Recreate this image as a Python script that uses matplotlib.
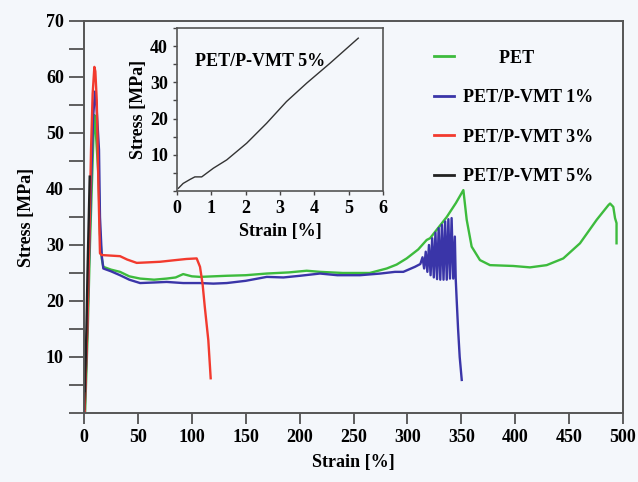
import numpy as np
import matplotlib
matplotlib.use('Agg')
import matplotlib.pyplot as plt
from matplotlib.ticker import MultipleLocator

plt.rcParams['font.family'] = 'Liberation Serif'
plt.rcParams['font.weight'] = 'bold'
plt.rcParams['axes.labelweight'] = 'bold'
plt.rcParams['font.size'] = 13

bg = '#f4f7fb'

# PET
pet_x = [1, 3.5, 5.5, 7.5, 9, 9.6, 11, 13.5, 14.8, 16.5, 17.9, 25, 33.4, 42, 52, 65, 76.7, 85, 92,
         100, 107.6, 120, 132.4, 150, 169.5, 190, 206.6, 219, 240, 265, 280.8, 290, 299.3, 310,
         317.9, 321, 336.5, 345, 351.9, 355, 359.6, 367.3, 376.6, 398.2, 413.7, 429.2, 444.6,
         460.1, 475.6, 486.4, 488, 491, 492.6, 494, 494]
pet_y = [0, 15, 30, 42, 51, 53.2, 50, 42, 32, 27.5, 26.1, 25.6, 25.2, 24.4, 24.0, 23.8, 24.0, 24.2, 24.8,
         24.4, 24.3, 24.4, 24.5, 24.6, 24.9, 25.1, 25.4, 25.2, 25.0, 25.0, 25.8, 26.5, 27.6, 29.2,
         30.9, 31.2, 35.0, 37.5, 39.8, 34.5, 29.7, 27.3, 26.4, 26.25, 26.0, 26.4, 27.6,
         30.3, 34.5, 37.1, 37.4, 36.8, 34.8, 33.9, 30.3]

# PET/P-VMT 1%
v1_x = [0.5, 3, 5, 7, 8.5, 10.2, 11.5, 13.9, 14.8, 16.5, 17.9, 25, 33.4, 42, 52, 65, 76.7, 92, 107.6,
        120, 132.4, 150, 169.5, 185, 200.4, 218.9, 235, 256, 275, 288.5, 296.2, 307, 310,
        312, 314, 315.5, 317, 318.5, 320, 321.5, 323, 324.5, 326, 327.5, 329, 330.5, 332,
        333.5, 335, 336.5, 338, 339.5, 341, 342.5, 344, 344.8, 345.7, 347, 348.5, 350.4]
v1_y = [0, 15, 30, 44, 53, 57.4, 55, 47, 35, 28, 25.8, 25.3, 24.6, 23.8, 23.2, 23.3, 23.4, 23.2, 23.2,
        23.1, 23.2, 23.6, 24.3, 24.2, 24.5, 24.9, 24.6, 24.6, 24.9, 25.2, 25.2, 26.1, 26.4,
        26.6, 27.8, 25.8, 28.8, 25.2, 30.0, 24.6, 31.2, 24.2, 32.2, 23.9, 33.0, 23.8, 33.6,
        23.8, 34.2, 23.8, 34.6, 24.0, 34.8, 24.0, 31.5, 24.0, 20.2, 15, 10, 5.9]

# PET/P-VMT 3%
v3_x = [0.5, 3, 5, 6.5, 8, 9.6, 10.5, 11.8, 13.3, 14.8, 16.4, 25, 33.4, 40, 48.9, 60, 70.5, 85,
        95, 104.5, 107.6, 110, 112, 115.3, 117.5]
v3_y = [0, 15, 32, 47, 57, 61.8, 61, 55.9, 41, 28.5, 28.2, 28.1, 28.0, 27.4, 26.8, 26.9, 27.0, 27.3,
        27.5, 27.6, 26.1, 23, 19, 13, 6.2]

# PET/P-VMT 5%
v5_x = [0.04, 0.18, 0.38, 0.52, 0.72, 1.06, 1.45, 2.03, 2.61, 3.19, 3.78, 4.46, 5.28]
v5_y = [0.75, 2.1, 3.2, 3.9, 3.9, 6.3, 8.6, 13.2, 18.7, 24.7, 29.8, 35.3, 42.2]

fig = plt.figure(figsize=(6.38, 4.82), dpi=100, facecolor=bg)
ax = fig.add_axes([0.1317, 0.1432, 0.8448, 0.8133], facecolor=bg)

ax.plot(pet_x, pet_y, color='#3dbb3d', lw=1.7, label='        PET')
ax.plot(v1_x, v1_y, color='#3a35a8', lw=1.7, label='PET/P-VMT 1%')
ax.plot(v3_x, v3_y, color='#f23a2e', lw=1.7, label='PET/P-VMT 3%')
ax.plot(v5_x, v5_y, color='#222222', lw=1.7, label='PET/P-VMT 5%')

ax.set_xlim(0, 500)
ax.set_ylim(0, 70)
ax.xaxis.set_major_locator(MultipleLocator(50))
ax.set_yticks([10, 20, 30, 40, 50, 60, 70])
ax.yaxis.set_minor_locator(MultipleLocator(5))
ax.tick_params(axis='y', which='both', direction='out', length=11, width=1.2, color='#444444')
ax.tick_params(axis='x', which='major', direction='out', length=8, width=1.2, color='#444444')
for s in ax.spines.values():
    s.set_color('#555555')
    s.set_linewidth(1.4)
ax.set_xlabel('Strain [%]', labelpad=6)
ax.set_ylabel('Stress [MPa]', labelpad=8)

leg = ax.legend(loc='upper left', bbox_to_anchor=(0.632, 0.95), frameon=False,
                handlelength=1.1, handletextpad=0.5, labelspacing=1.25, borderpad=0)
for line in leg.get_lines():
    line.set_linewidth(2)

# inset
ins = fig.add_axes([0.2774, 0.6037, 0.3229, 0.3382], facecolor=bg)
ins.plot(v5_x, v5_y, color='#333333', lw=1)
ins.set_xlim(0, 6)
ins.set_ylim(0, 45)
ins.set_xticks(range(0, 7))
ins.set_yticks([10, 20, 30, 40])
ins.yaxis.set_minor_locator(MultipleLocator(5))
ins.tick_params(axis='both', which='both', direction='out', length=3, width=1, color='#444444')
for s in ins.spines.values():
    s.set_color('#555555')
    s.set_linewidth(1.2)
ins.set_xlabel('Strain [%]', labelpad=4)
ins.set_ylabel('Stress [MPa]', labelpad=2)
ins.text(0.52, 35.7, 'PET/P-VMT 5%', va='center', ha='left')

fig.savefig('out.png', dpi=100, facecolor=bg)
